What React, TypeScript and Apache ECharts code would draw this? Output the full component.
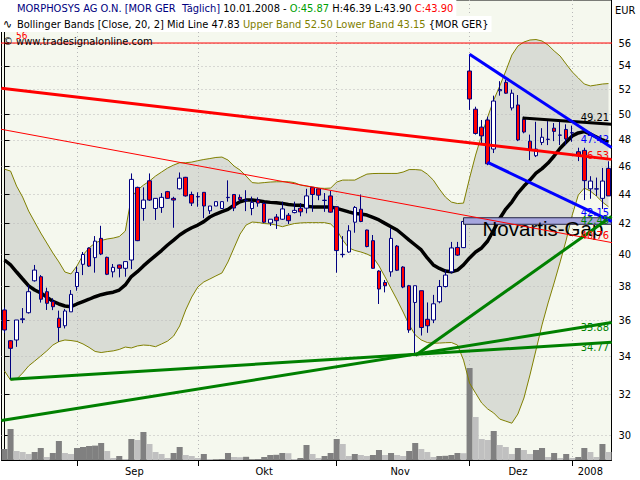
import React, { useEffect, useRef } from 'react';
import * as echarts from 'echarts';

// ---------- data ----------
const holidays = ['2007-12-24', '2007-12-25', '2007-12-26', '2007-12-31', '2008-01-01'];
function tradingDays(from: string, to: string): string[] {
  const out: string[] = [];
  const d = new Date(from + 'T00:00:00Z');
  const end = new Date(to + 'T00:00:00Z');
  while (d <= end) {
    const wd = d.getUTCDay();
    const s = d.toISOString().slice(0, 10);
    if (wd !== 0 && wd !== 6 && holidays.indexOf(s) < 0) out.push(s);
    d.setUTCDate(d.getUTCDate() + 1);
  }
  return out;
}
const dates = tradingDays('2007-08-16', '2008-01-10');

// [open, close, low, high]
const candles: number[][] = [
  [36.61, 35.46, 35.29, 36.75], [34.86, 34.44, 32.78, 34.90], [34.90, 36.03, 34.52, 36.03], [36.05, 36.10, 35.85, 36.72],
  [36.45, 37.69, 36.40, 38.09], [38.35, 39.01, 38.30, 39.33], [38.60, 37.24, 37.04, 38.70], [37.69, 37.00, 36.61, 37.93],
  [37.10, 36.80, 36.60, 37.30], [36.13, 35.60, 34.80, 36.57], [35.70, 36.55, 35.55, 36.67], [36.50, 37.53, 36.50, 37.79],
  [38.00, 38.86, 37.75, 39.22], [39.37, 39.99, 38.70, 40.15], [40.40, 39.26, 39.20, 40.45], [39.79, 40.85, 38.85, 41.18],
  [41.03, 40.02, 39.95, 41.86], [39.81, 38.75, 38.70, 39.85], [38.90, 39.18, 38.56, 39.39], [39.33, 39.12, 38.56, 39.35],
  [39.12, 39.54, 38.60, 39.55], [39.64, 45.07, 39.07, 45.50], [44.50, 40.88, 40.85, 44.55], [43.03, 43.61, 42.20, 44.50],
  [44.97, 43.61, 43.55, 45.50], [43.03, 43.73, 42.25, 43.75], [43.10, 43.80, 42.73, 44.10], [44.20, 43.73, 43.70, 44.25],
  [43.73, 43.61, 41.73, 43.84], [44.40, 45.16, 44.35, 45.57], [45.22, 43.90, 43.85, 45.25], [44.00, 43.40, 43.20, 44.20],
  [43.83, 43.86, 43.15, 44.15], [44.15, 43.20, 42.37, 44.15], [42.87, 43.20, 42.65, 43.20], [43.20, 43.50, 43.20, 43.50],
  [43.03, 43.50, 43.00, 43.50], [43.78, 43.80, 43.50, 45.00], [44.00, 43.06, 42.85, 44.00], [43.80, 43.65, 43.50, 44.00],
  [43.58, 43.60, 42.85, 44.30], [43.03, 43.45, 42.57, 43.85], [43.61, 43.40, 43.15, 43.80], [43.38, 42.10, 42.05, 43.45],
  [42.05, 42.30, 41.85, 42.30], [42.45, 42.20, 41.65, 42.65], [42.30, 43.00, 42.25, 43.50], [42.57, 42.20, 41.98, 42.72],
  [42.75, 42.90, 42.70, 43.50], [43.05, 42.80, 42.50, 43.40], [43.05, 43.90, 42.70, 44.40], [44.50, 44.00, 42.80, 44.50],
  [44.40, 43.95, 43.60, 44.45], [43.58, 43.60, 42.80, 44.10], [43.90, 42.78, 42.75, 44.25], [43.15, 40.24, 38.85, 43.15],
  [39.98, 40.00, 39.80, 41.18], [40.15, 41.53, 40.10, 41.90], [42.10, 43.10, 41.40, 43.20], [42.98, 42.15, 42.10, 44.00],
  [41.58, 40.50, 40.45, 41.60], [40.88, 39.12, 39.10, 41.25], [38.95, 37.85, 36.96, 39.00], [38.25, 38.05, 37.65, 38.40],
  [38.90, 41.03, 38.60, 41.70], [40.53, 39.00, 38.95, 40.60], [39.20, 37.97, 37.90, 39.25], [38.05, 35.46, 35.30, 38.10],
  [37.05, 38.05, 34.05, 38.05], [37.75, 35.60, 35.15, 37.75], [36.07, 35.70, 35.30, 37.05], [36.03, 36.97, 35.85, 37.50],
  [37.09, 38.00, 37.00, 38.40], [38.00, 38.70, 37.95, 39.05], [38.90, 40.41, 38.80, 40.80], [40.44, 39.95, 39.90, 40.80],
  [40.43, 42.15, 40.40, 42.20], [53.56, 51.22, 50.34, 55.00], [50.40, 48.49, 48.40, 50.60], [48.98, 48.30, 47.75, 49.54],
  [49.54, 46.20, 46.10, 49.80], [47.30, 51.06, 47.00, 51.50], [51.90, 52.00, 51.50, 52.70], [52.60, 51.70, 51.65, 52.80],
  [50.50, 51.70, 50.30, 52.00], [50.74, 47.99, 47.90, 51.55], [49.60, 48.60, 48.50, 49.80], [47.90, 47.25, 46.48, 48.40],
  [46.80, 47.30, 46.70, 49.40], [47.80, 48.20, 47.60, 48.90], [48.03, 48.05, 47.60, 49.45], [48.90, 48.65, 47.90, 49.30],
  [48.35, 48.37, 47.60, 49.40], [48.80, 48.07, 47.60, 49.20], [48.53, 48.55, 47.85, 49.10], [47.10, 46.80, 46.40, 47.40],
  [47.20, 44.98, 43.61, 47.40], [44.40, 44.95, 43.70, 45.30], [44.38, 44.40, 43.90, 45.20], [43.73, 44.95, 43.00, 45.90],
  [45.87, 43.90, 43.90, 46.39],
];

// volume, thousand shares
const volume = [
  55, 155, 45, 40, 30, 40, 60, 15, 35, 95,
  35, 30, 60, 65, 70, 72, 85, 45, 10, 20,
  5, 105, 100, 140, 80, 40, 30, 10, 35, 65,
  25, 20, 10, 30, 5, 2, 5, 35, 15, 14,
  16, 2, 5, 15, 25, 26, 35, 34, 5, 10,
  75, 30, 10, 20, 35, 105, 80, 20, 30, 25,
  20, 25, 50, 25, 35, 25, 20, 45, 85, 55,
  40, 15, 20, 21, 25, 35, 34, 460, 215, 105,
  100, 145, 75, 65, 30, 60, 50, 30, 50, 60,
  15, 35, 10, 30, 10, 15, 60, 40, 15, 80,
  40,
];

const midLine = [
  39.64, 39.33, 38.89, 38.46, 38.04, 37.79, 37.61, 37.37, 37.11, 36.96,
  36.84, 36.80, 36.96, 37.10, 37.24, 37.39, 37.51, 37.60, 37.66, 37.79,
  38.10, 38.61, 38.91, 39.27, 39.60, 39.92, 40.24, 40.60, 40.92, 41.25,
  41.51, 41.73, 41.91, 42.14, 42.45, 42.65, 42.81, 42.97, 43.26, 43.49,
  43.61, 43.61, 43.56, 43.49, 43.45, 43.42, 43.38, 43.31, 43.26, 43.26,
  43.19, 43.14, 43.14, 43.14, 43.14, 43.04, 42.92, 42.80, 42.69, 42.65,
  42.58, 42.42, 42.25, 42.02, 41.80, 41.58, 41.25, 40.92, 40.60, 40.28,
  39.77, 39.33, 39.11, 38.95, 38.91, 39.01, 39.33, 39.77, 40.15, 40.41,
  40.86, 41.58, 42.35, 42.99, 43.47, 44.10, 44.59, 45.02, 45.52, 45.85,
  46.26, 46.78, 47.36, 47.84, 48.30, 48.53, 48.63, 48.45, 48.22, 47.99,
  47.83,
];

const upperBand = [
  45.81, 45.67, 44.59, 43.82, 42.85, 42.11, 41.38, 40.73, 40.09, 39.52,
  38.89, 38.77, 39.27, 39.96, 40.41, 40.73, 40.89, 40.99, 41.05, 41.15,
  41.51, 43.82, 44.31, 44.66, 44.95, 45.31, 45.60, 45.89, 46.11, 46.28,
  46.28, 46.33, 46.43, 46.52, 46.59, 46.67, 46.70, 46.48, 46.04, 45.74,
  45.31, 44.84, 44.80, 44.84, 44.88, 44.90, 44.90, 44.90, 44.84, 44.66,
  44.59, 44.52, 44.45, 44.43, 44.45, 44.88, 45.02, 45.02, 45.02, 45.24,
  45.45, 45.49, 45.50, 45.50, 45.50, 45.50, 45.60, 45.78, 45.78, 45.74,
  45.45, 45.02, 44.38, 43.82, 43.47, 43.37, 43.40, 45.16, 46.85, 48.37,
  49.78, 51.14, 52.30, 53.56, 54.94, 55.73, 56.09, 56.27, 56.31, 56.18,
  55.82, 55.30, 54.85, 54.15, 53.48, 52.97, 52.46, 52.30, 52.38, 52.46,
  52.50,
];

const lowerBand = [
  33.22, 32.74, 32.79, 33.11, 33.49, 33.75, 34.02, 34.30, 34.62, 34.81,
  34.90, 34.87, 34.82, 34.68, 34.49, 34.27, 34.21, 34.26, 34.30, 34.38,
  34.51, 34.46, 34.57, 34.62, 34.60, 34.53, 34.68, 34.84, 35.12, 35.69,
  36.61, 37.37, 37.97, 38.28, 38.46, 38.65, 38.83, 39.52, 40.41, 41.31,
  41.91, 42.11, 42.08, 42.01, 41.98, 41.91, 41.80, 41.91, 42.01, 42.05,
  42.07, 42.07, 42.07, 42.07, 41.98, 41.58, 40.92, 40.41, 40.25, 40.15,
  40.02, 39.83, 39.27, 38.59, 37.88, 37.20, 36.49, 35.75, 35.18, 34.90,
  34.76, 34.72, 34.73, 34.75, 34.76, 34.62, 33.80, 32.58, 32.07, 31.57,
  31.27, 31.07, 30.77, 30.67, 30.57, 31.02, 31.82, 33.01, 34.35, 35.75,
  37.02, 38.22, 39.52, 40.92, 42.58, 43.96, 44.45, 44.24, 43.89, 43.47,
  43.15,
];

const priceTicks = [30, 32, 34, 36, 38, 40, 42, 44, 46, 48, 50, 52, 54, 56];
const priceGrid = [30, 32, 34, 36, 38, 40, 42, 44, 46, 48, 50, 52, 54, 56, 58];

// drawn lines: [dayIndex, price] end points
const resistanceMain = [[-0.5, 52.10], [100.5, 46.53]];
const resistanceThin = [[-0.5, 48.81], [100.5, 40.76]];
const topLine = [[85.8, 49.70], [100.5, 49.21]];
const channelUpper = [[77, 55.00], [100.5, 47.42]];
const channelLower = [[80, 46.31], [100.5, 42.15]];
const supportLong = [[-0.5, 30.70], [100.5, 35.88]];
const supportLow = [[1, 32.78], [100.5, 34.77]];
const supportSteep = [[68, 34.05], [100.5, 42.48]];
const level56 = [[-0.5, 56], [100.5, 56]];
// [fromIndex, toIndex, topPrice, bottomPrice]
const gapZone = [[76, 100.5, 42.40, 41.96]];

// ---------- presentation ----------
const FONT = "'DejaVu Sans Condensed', 'DejaVu Sans', sans-serif";
const monthNames = ['Jan', 'Feb', 'Mär', 'Apr', 'Mai', 'Jun', 'Jul', 'Aug', 'Sep', 'Okt', 'Nov', 'Dez'];

function buildOption() {
  const n = dates.length;
  const monthStarts: number[] = [];
  for (let i = 1; i < n; i++) if (dates[i].slice(5, 7) !== dates[i - 1].slice(5, 7)) monthStarts.push(i);
  const labelPos = monthStarts.map((s, k) => (s + (k + 1 < monthStarts.length ? monthStarts[k + 1] : n)) / 2 - 0.5);
  const labelText = monthStarts.map((s) => {
    const m = parseInt(dates[s].slice(5, 7), 10) - 1;
    return m === 0 ? dates[s].slice(0, 4) : monthNames[m];
  });

  const last = candles[n - 1];
  const f2 = (v: number) => v.toFixed(2);

  const trendDefs = [
    { data: resistanceThin, color: '#FF0000', width: 1, dy: -7 },
    { data: supportLong, color: '#008000', width: 3, dy: 5 },
    { data: supportLow, color: '#008000', width: 3, dy: 6 },
    { data: supportSteep, color: '#008000', width: 3, dy: 4 },
    { data: resistanceMain, color: '#FF0000', width: 3, dy: -3 },
    { data: topLine, color: '#000000', width: 3, dy: -6 },
    { data: channelUpper, color: '#0000FF', width: 3, dy: -7 },
    { data: channelLower, color: '#0000FF', width: 3, dy: -8 },
  ];

  const trendSeries = trendDefs.map((t) => ({
    type: 'line',
    xAxisIndex: 1,
    yAxisIndex: 0,
    silent: true,
    z: 6,
    symbol: 'circle',
    symbolSize: 1,
    showSymbol: true,
    itemStyle: { color: t.color },
    lineStyle: { color: t.color, width: t.width },
    data: t.data.map((p, i) =>
      i === t.data.length - 1
        ? {
            value: p,
            label: {
              show: true,
              formatter: f2(p[1]),
              position: [-2, t.dy],
              align: 'right',
              verticalAlign: 'middle',
              color: t.color,
              fontSize: 11,
              fontFamily: FONT,
            },
          }
        : { value: p },
    ),
  }));

  const gridLine = { color: '#B8B8B8', width: 1, type: [1, 3] };

  return {
    animation: false,
    backgroundColor: '#FFFFFF',
    textStyle: { fontFamily: FONT },
    grid: {
      left: 1.5, right: 28.5, top: 0, bottom: 20,
      show: true, backgroundColor: '#F5F8EE', borderColor: '#000000', borderWidth: 1, z: 0,
    },
    xAxis: [
      { type: 'category', data: dates, show: false, position: 'top', boundaryGap: true },
      {
        type: 'value', min: -0.5, max: n - 0.5, position: 'bottom', z: 2,
        axisLine: { show: true, onZero: false, lineStyle: { color: '#000000', width: 1 } },
        axisTick: { show: true, customValues: monthStarts, length: 6, lineStyle: { color: '#000000' } },
        axisLabel: {
          customValues: labelPos, margin: 6, color: '#000000', fontSize: 11, fontFamily: FONT,
          formatter: (v: number) => {
            const k = labelPos.findIndex((p) => Math.abs(p - v) < 0.01);
            return k >= 0 ? labelText[k] : '';
          },
        },
        splitLine: { show: true, customValues: monthStarts, lineStyle: gridLine },
      },
    ],
    yAxis: [
      {
        type: 'log', position: 'right', min: 28.83, max: 59.97, z: 2,
        axisLine: { show: true, lineStyle: { color: '#000000', width: 1 } },
        axisTick: { show: true, customValues: priceTicks, length: 5, lineStyle: { color: '#000000' } },
        axisLabel: {
          customValues: priceTicks, margin: 7, color: '#000000', fontSize: 11, fontFamily: FONT,
          formatter: (v: number) => String(Math.round(v)),
        },
        splitLine: { show: true, customValues: priceGrid, lineStyle: gridLine },
      },
      { type: 'value', min: 0, max: 2300, show: false },
    ],
    series: [
      {
        type: 'line', name: 'bandBase', stack: 'bb', data: lowerBand, symbol: 'none', silent: true, z: 1,
        lineStyle: { opacity: 0 },
      },
      {
        type: 'line', name: 'bandFill', stack: 'bb', data: upperBand.map((u, i) => u - lowerBand[i]),
        symbol: 'none', silent: true, z: 1,
        lineStyle: { opacity: 0 }, areaStyle: { color: '#D9DCD5', opacity: 1 },
      },
      {
        type: 'bar', xAxisIndex: 0, yAxisIndex: 1, silent: true, z: 3, barWidth: '100%',
        data: volume.map((v, i) => ({
          value: v,
          itemStyle: { color: i === 0 || v > volume[i - 1] ? '#808080' : '#C0C0C0' },
        })),
      },
      {
        type: 'line', name: 'upper', data: upperBand, symbol: 'none', silent: true, z: 3,
        lineStyle: { color: '#808000', width: 1 },
      },
      {
        type: 'line', name: 'lower', data: lowerBand, symbol: 'none', silent: true, z: 3,
        lineStyle: { color: '#808000', width: 1 },
      },
      {
        type: 'line', name: 'mid', data: midLine, symbol: 'none', silent: true, z: 3,
        lineStyle: { color: '#000000', width: 3.5 },
      },
      {
        type: 'candlestick', xAxisIndex: 0, yAxisIndex: 0, data: candles, barWidth: 4, silent: true, z: 4,
        itemStyle: { color: '#FFFFFF', color0: '#FF0000', borderColor: '#000080', borderColor0: '#000080', borderWidth: 1 },
      },
      {
        type: 'custom', xAxisIndex: 1, yAxisIndex: 0, data: gapZone, silent: true, z: 5,
        renderItem: (params: any, api: any) => {
          const a = api.coord([api.value(0), api.value(2)]);
          const b = api.coord([api.value(1), api.value(3)]);
          return {
            type: 'group',
            children: [
              {
                type: 'rect',
                shape: { x: a[0], y: a[1], width: b[0] - a[0], height: b[1] - a[1] },
                style: { fill: '#A6A6DE', stroke: '#222244', lineWidth: 1 },
              },
              {
                type: 'text', x: a[0] + 19, y: b[1] + 4,
                style: {
                  text: 'Novartis-Gap', fill: '#000000', fontSize: 20.5,
                  fontFamily: "'Liberation Sans', Arial, sans-serif", verticalAlign: 'middle', align: 'left',
                },
              },
            ],
          };
        },
      },
      {
        type: 'line', xAxisIndex: 1, yAxisIndex: 0, silent: true, z: 6,
        symbol: 'circle', symbolSize: 1, showSymbol: true,
        itemStyle: { color: '#FF0000' }, lineStyle: { color: '#FF0000', width: 1 },
        data: level56.map((p, i) =>
          i === 0
            ? {
                value: p,
                label: {
                  show: true, formatter: String(p[1]), position: [15, -7], align: 'left', verticalAlign: 'middle',
                  color: '#FF0000', fontSize: 10, fontFamily: FONT,
                },
              }
            : { value: p },
        ),
      },
      ...trendSeries,
    ],
    graphic: [
      {
        type: 'text', x: 0, y: 0, z: 100,
        style: {
          text:
            `{n|MORPHOSYS AG O.N. [MOR GER  Täglich]}{k| ${dates[n - 1].split('-').reverse().join('.')} - }` +
            `{g|O:${f2(last[0])}}{k| H:${f2(last[3])} L:${f2(last[2])} }{r|C:${f2(last[1])}}`,
          rich: {
            n: { fill: '#000080', fontSize: 11, fontFamily: FONT, lineHeight: 16 },
            k: { fill: '#000000', fontSize: 11, fontFamily: FONT, lineHeight: 16 },
            g: { fill: '#00A000', fontSize: 11, fontFamily: FONT, lineHeight: 16 },
            r: { fill: '#FF0000', fontSize: 11, fontFamily: FONT, lineHeight: 16 },
          },
          fontSize: 11, fontFamily: FONT, lineHeight: 16,
          backgroundColor: '#FFFFFF', padding: [0, 3, 0, 17],
        },
      },
      {
        type: 'group', z: 101,
        children: [
          { type: 'line', shape: { x1: 5.5, y1: 2, x2: 5.5, y2: 14 }, style: { stroke: '#000080', lineWidth: 1 } },
          { type: 'rect', shape: { x: 3.5, y: 5, width: 4, height: 6 }, style: { fill: '#FFFFFF', stroke: '#000080', lineWidth: 1 } },
        ],
      },
      {
        type: 'text', x: 0, y: 16, z: 100,
        style: {
          text:
            `{k|Bollinger Bands [Close, 20, 2] Mid Line ${f2(midLine[n - 1])} }` +
            `{o|Upper Band ${f2(upperBand[n - 1])} Lower Band ${f2(lowerBand[n - 1])}} {MOR GER}`,
          rich: {
            k: { fill: '#000000', fontSize: 11, fontFamily: FONT, lineHeight: 16 },
            o: { fill: '#808000', fontSize: 11, fontFamily: FONT, lineHeight: 16 },
          },
          fill: '#000000', fontSize: 11, fontFamily: FONT, lineHeight: 16,
          backgroundColor: '#FFFFFF', padding: [0, 3, 0, 17],
        },
      },
      {
        type: 'text', x: 3, y: 24, z: 101,
        style: { text: '∿', fill: '#000000', fontSize: 12, fontFamily: FONT, verticalAlign: 'middle' },
      },
      {
        type: 'text', x: 3, y: 41.5, z: 100,
        style: { text: '© www.tradesignalonline.com', fill: '#000000', fontSize: 11, fontFamily: FONT, verticalAlign: 'middle' },
      },
      {
        type: 'text', x: 615, y: 10, z: 100,
        style: { text: 'EUR', fill: '#000000', fontSize: 11, fontFamily: FONT, verticalAlign: 'middle' },
      },
    ],
  };
}

export default function App() {
  const ref = useRef<HTMLDivElement>(null);
  useEffect(() => {
    if (!ref.current) return;
    const chart = echarts.init(ref.current, null, { renderer: 'svg' });
    chart.setOption(buildOption() as any);
    return () => chart.dispose();
  }, []);
  return <div ref={ref} style={{ position: 'fixed', left: 0, top: 0, width: 640, height: 480 }} />;
}
